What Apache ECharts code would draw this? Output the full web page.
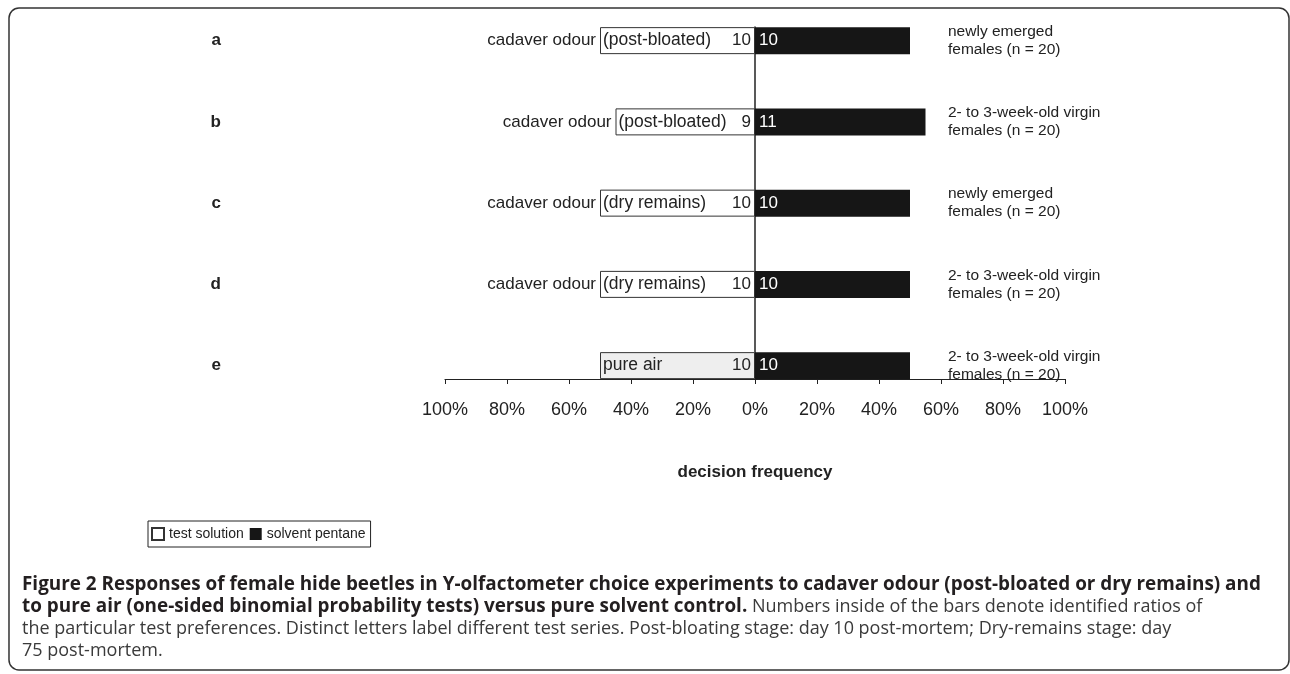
<!DOCTYPE html>
<html>
<head>
<meta charset="utf-8">
<script src="https://cdn.jsdelivr.net/npm/echarts@6/dist/echarts.min.js"></script>
<style>
    html, body { margin: 0; padding: 0; background: #fff; }
    #main { width: 1290px; height: 674px; }
</style>
</head>
<body>
<div id="main"></div>
<script>
    // test series letters
    const categories = ['a', 'b', 'c', 'd', 'e'];
    // number of beetles choosing each arm
    const testCounts = [10, 9, 10, 10, 10];
    const pentaneCounts = [10, 11, 10, 10, 10];
    const totals = [20, 20, 20, 20, 20];
    const stimulus = ['cadaver odour', 'cadaver odour', 'cadaver odour', 'cadaver odour', ''];
    const stage = ['(post-bloated)', '(post-bloated)', '(dry remains)', '(dry remains)', 'pure air'];
    const beetles = [
        'newly emerged\nfemales (n = 20)',
        '2- to 3-week-old virgin\nfemales (n = 20)',
        'newly emerged\nfemales (n = 20)',
        '2- to 3-week-old virgin\nfemales (n = 20)',
        '2- to 3-week-old virgin\nfemales (n = 20)'
    ];

    const testPct = testCounts.map((c, i) => -c / totals[i] * 100);
    const pentanePct = pentaneCounts.map((c, i) => c / totals[i] * 100);

    const font = 'Liberation Sans, Arial, sans-serif';
    const capFont = 'Open Sans, sans-serif';
    const chart = echarts.init(document.getElementById('main'));

    // pure air (no cadaver stimulus) is drawn light grey
    const testData = testPct.map((v, i) => stimulus[i] ? v : { value: v, itemStyle: { color: '#eeeeee' } });

    const option = {
        animation: false,
        textStyle: { fontFamily: font },
        graphic: [{
            type: 'rect',
            shape: { x: 9, y: 8, width: 1280, height: 662, r: 10 },
            style: { fill: 'none', stroke: '#333', lineWidth: 1.5 },
            silent: true
        }],
        title: {
            left: 17,
            top: 569,
            text: '{b|Figure 2 Responses of female hide beetles in Y-olfactometer choice experiments to cadaver odour (post-bloated or dry remains) and}\n' +
                '{b|to pure air (one-sided binomial probability tests) versus pure solvent control.}{r| Numbers inside of the bars denote identified ratios of}\n' +
                '{r|the particular test preferences. Distinct letters label different test series. Post-bloating stage: day 10 post-mortem; Dry-remains stage: day}\n' +
                '{r|75 post-mortem.}',
            textStyle: {
                rich: {
                    b: { fontFamily: capFont, fontWeight: 'bold', fontSize: 18.9, color: '#231f20', lineHeight: 22 },
                    r: { fontFamily: capFont, fontWeight: 'normal', fontSize: 18, color: '#3a3a3a', lineHeight: 22 }
                }
            }
        },
        legend: {
            data: ['test solution', 'solvent pentane'],
            left: 148,
            top: 521,
            icon: 'rect',
            itemWidth: 12,
            itemHeight: 12,
            itemGap: 6,
            borderColor: '#222',
            borderWidth: 1,
            borderRadius: 0,
            padding: [6, 5, 6, 3],
            textStyle: { fontFamily: font, fontSize: 14, color: '#222' }
        },
        grid: [
            { left: 445, width: 620, top: 0, height: 406.25 },
            { left: 445, width: 620, top: 27, height: 352 }
        ],
        xAxis: [
            { gridIndex: 0, type: 'value', min: -100, max: 100, show: false },
            {
                gridIndex: 1, type: 'value', min: -100, max: 100, interval: 20,
                axisLine: { show: true, onZero: false, lineStyle: { color: '#222', width: 1.2 } },
                axisTick: { show: true, length: 5, lineStyle: { color: '#222' } },
                splitLine: { show: false },
                axisLabel: { formatter: v => Math.abs(v) + '%', color: '#222', fontSize: 18, margin: 22 },
                name: 'decision frequency',
                nameLocation: 'middle',
                nameGap: 85,
                nameTextStyle: { fontWeight: 'bold', fontSize: 17, color: '#222' }
            }
        ],
        yAxis: [
            {
                gridIndex: 0, type: 'category', inverse: true, data: categories,
                axisLine: { show: false }, axisTick: { show: false },
                axisLabel: { fontWeight: 'bold', fontSize: 17, color: '#222', margin: 224 }
            },
            {
                gridIndex: 0, type: 'category', inverse: true, data: categories, position: 'right', offset: -117,
                axisLine: { show: false }, axisTick: { show: false },
                axisLabel: { formatter: (v, i) => beetles[i], align: 'left', margin: 0, fontSize: 15.5, lineHeight: 18, color: '#222' }
            },
            {
                gridIndex: 1, type: 'category', inverse: true, data: categories,
                axisLine: { show: true, onZero: true, lineStyle: { color: '#222', width: 1.5 } },
                axisTick: { show: false }, axisLabel: { show: false }
            }
        ],
        series: [
            {
                name: 'test solution', type: 'bar', xAxisIndex: 0, yAxisIndex: 0,
                data: testData, barWidth: 27, barGap: '-100%',
                itemStyle: { color: '#ffffff', borderColor: '#333', borderWidth: 1 },
                label: { show: true, position: 'insideRight', distance: 4, formatter: p => testCounts[p.dataIndex], fontSize: 17, color: '#222' }
            },
            {
                name: 'stage', type: 'bar', xAxisIndex: 0, yAxisIndex: 0, silent: true,
                data: testPct, barWidth: 27, barGap: '-100%',
                itemStyle: { color: 'rgba(0,0,0,0)' },
                label: { show: true, position: 'insideLeft', distance: 3, formatter: p => stage[p.dataIndex], fontSize: 17.5, color: '#222' }
            },
            {
                name: 'stimulus', type: 'bar', xAxisIndex: 0, yAxisIndex: 0, silent: true,
                data: testPct, barWidth: 27, barGap: '-100%',
                itemStyle: { color: 'rgba(0,0,0,0)' },
                label: { show: true, position: 'left', distance: 4, formatter: p => stimulus[p.dataIndex], fontSize: 17, color: '#222' }
            },
            {
                name: 'solvent pentane', type: 'bar', xAxisIndex: 0, yAxisIndex: 0,
                data: pentanePct, barWidth: 27, barGap: '-100%',
                itemStyle: { color: '#161616' },
                label: { show: true, position: 'insideLeft', distance: 4, formatter: p => pentaneCounts[p.dataIndex], fontSize: 17, color: '#fff' }
            }
        ]
    };
    chart.setOption(option);
</script>
</body>
</html>
